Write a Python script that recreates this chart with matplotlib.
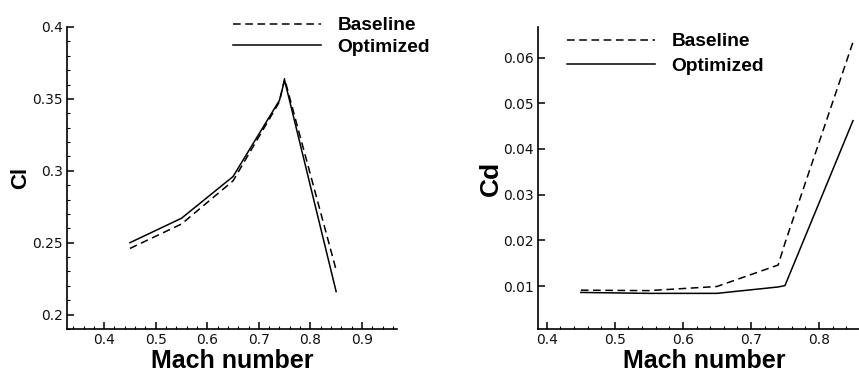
import matplotlib
matplotlib.use("Agg")
import matplotlib.pyplot as plt
from matplotlib.ticker import MultipleLocator

# Mach numbers and coefficients
mach = [0.45, 0.55, 0.65, 0.74, 0.75, 0.85]
cl_baseline = [0.246, 0.263, 0.293, 0.348, 0.364, 0.231]
cl_optimized = [0.250, 0.267, 0.296, 0.349, 0.363, 0.216]
cd_baseline = [0.0091, 0.0090, 0.0099, 0.0146, 0.0194, 0.0634]
cd_optimized = [0.0086, 0.0084, 0.0084, 0.0098, 0.0101, 0.0462]

labels = ["Baseline", "Optimized"]

W, H = 859, 373
fig = plt.figure(figsize=(W / 100, H / 100), dpi=100)


def px(x0, y_top, x1, y_bot):
    # axes rectangle from pixel box
    return [x0 / W, 1 - y_bot / H, (x1 - x0) / W, (y_bot - y_top) / H]


ax1 = fig.add_axes(px(67, 27, 397, 329))
ax2 = fig.add_axes(px(538, 27, 870, 329))

bold = dict(family="Liberation Sans", weight="bold")
legend_font = dict(family="Liberation Sans", weight="bold", size=13.8)


def style(ax):
    for s in ["top", "right"]:
        ax.spines[s].set_visible(False)
    for s in ["left", "bottom"]:
        ax.spines[s].set_linewidth(1.2)
    ax.tick_params(which="both", direction="in", color="black")
    ax.tick_params(which="major", length=5, width=1.1, pad=3, labelsize=10)
    ax.tick_params(which="minor", length=2.5, width=0.8)
    for lab in ax.get_xticklabels() + ax.get_yticklabels():
        lab.set_family("DejaVu Sans")
        lab.set_color("#111111")
    ax.xaxis.set_major_locator(MultipleLocator(0.1))
    ax.xaxis.set_minor_locator(MultipleLocator(0.02))
    ax.set_xlabel("Mach number", fontsize=18, labelpad=1, **bold)


# Cl panel
ax1.plot(mach, cl_baseline, color="black", lw=1.1, dashes=(5, 3), label=labels[0])
ax1.plot(mach, cl_optimized, color="black", lw=1.1, label=labels[1])
ax1.set_xlim(0.328, 0.968)
ax1.set_ylim(0.19, 0.4)
ax1.yaxis.set_minor_locator(MultipleLocator(0.01))
ax1.set_yticks([0.2, 0.25, 0.3, 0.35, 0.4])
ax1.set_yticklabels(["0.2", "0.25", "0.3", "0.35", "0.4"])
style(ax1)
ax1.set_ylabel("Cl", fontsize=16, labelpad=1, **bold)
ax1.legend(loc="upper left", bbox_to_anchor=(233 / W, 1 - 17 / H),
           bbox_transform=fig.transFigure, frameon=False, borderpad=0,
           borderaxespad=0, handlelength=4.6, handletextpad=0.85,
           labelspacing=0.2, prop=legend_font)

# Cd panel
ax2.plot(mach, cd_baseline, color="black", lw=1.1, dashes=(5, 3), label=labels[0])
ax2.plot(mach, cd_optimized, color="black", lw=1.1, label=labels[1])
ax2.set_xlim(0.387, 0.875)
ax2.set_ylim(0.0006, 0.0667)
ax2.set_yticks([0.01, 0.02, 0.03, 0.04, 0.05, 0.06])
ax2.set_yticklabels(["0.01", "0.02", "0.03", "0.04", "0.05", "0.06"])
style(ax2)
ax2.set_ylabel("Cd", fontsize=19, labelpad=0, **bold)
ax2.legend(loc="upper left", bbox_to_anchor=(567 / W, 1 - 33 / H),
           bbox_transform=fig.transFigure, frameon=False, borderpad=0,
           borderaxespad=0, handlelength=4.6, handletextpad=0.85,
           labelspacing=0.35, prop=legend_font)

fig.savefig("out.png", dpi=100)
